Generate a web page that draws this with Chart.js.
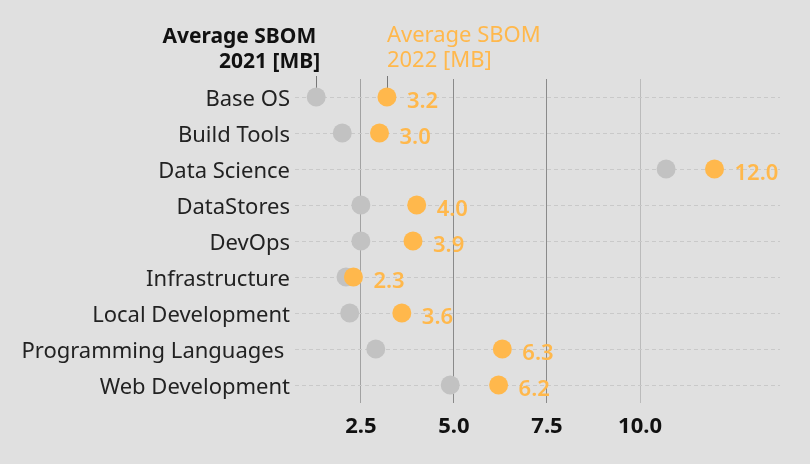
<!DOCTYPE html>
<html>
<head>
<meta charset="utf-8">
<script src="https://cdn.jsdelivr.net/npm/chart.js@4"></script>
<style>
  html, body { margin: 0; padding: 0; background: #e0e0e0; }
  #wrap { width: 810px; height: 464px; }
</style>
</head>
<body>
<div id="wrap"><canvas id="c" width="810" height="464"></canvas></div>
<script>
const categories = ["Base OS", "Build Tools", "Data Science", "DataStores", "DevOps", "Infrastructure", "Local Development", "Programming Languages ", "Web Development"];
const sbom2021 = [1.3, 2.0, 10.7, 2.5, 2.5, 2.1, 2.2, 2.9, 4.9];
const sbom2022 = [3.2, 3.0, 12.0, 4.0, 3.9, 2.3, 3.6, 6.3, 6.2];
const xTicks = [2.5, 5.0, 7.5, 10.0];
const header2021 = ["Average SBOM", "2021 [MB]"];
const header2022 = ["Average SBOM", "2022 [MB]"];

const FONT = "'Noto Sans', sans-serif";
const ORANGE = "#ffb84c";
const GREY = "#c2c2c2";

const bgPlugin = {
  id: "bg",
  beforeDraw(chart) {
    const ctx = chart.ctx;
    ctx.save();
    ctx.fillStyle = "#e0e0e0";
    ctx.fillRect(0, 0, chart.width, chart.height);
    ctx.restore();
  }
};

const annotPlugin = {
  id: "annot",
  beforeDatasetsDraw(chart) {
    const ctx = chart.ctx;
    const m21 = chart.getDatasetMeta(1).data[0];
    const m22 = chart.getDatasetMeta(0).data[0];
    ctx.save();
    ctx.strokeStyle = "#777";
    ctx.lineWidth = 1;
    [m21, m22].forEach(p => {
      const x = Math.round(p.x) + 0.5;
      ctx.beginPath();
      ctx.moveTo(x, 76);
      ctx.lineTo(x, p.y - 8);
      ctx.stroke();
    });
    // headers
    ctx.textBaseline = "middle";
    ctx.fillStyle = "#111";
    ctx.font = "bold 21px " + FONT;
    ctx.textAlign = "right";
    ctx.fillText(header2021[0], m21.x + 0, 37);
    ctx.fillText(header2021[1], m21.x + 4, 62);
    ctx.fillStyle = ORANGE;
    ctx.font = "22px " + FONT;
    ctx.textAlign = "left";
    ctx.fillText(header2022[0], m22.x, 36);
    ctx.fillText(header2022[1], m22.x, 61);
    ctx.restore();
  },
  afterDatasetsDraw(chart) {
    const ctx = chart.ctx;
    const meta = chart.getDatasetMeta(0);
    ctx.save();
    ctx.fillStyle = ORANGE;
    ctx.font = "600 22px " + FONT;
    ctx.textAlign = "left";
    ctx.textBaseline = "middle";
    meta.data.forEach((p, i) => {
      ctx.fillText(sbom2022[i].toFixed(1), p.x + 20, p.y + 5);
    });
    ctx.restore();
  }
};

const gridColors = { 2.5: "#a2a2a2", 5: "#8a8a8a", 7.5: "#8a8a8a", 10: "#bbbbbb" };

new Chart(document.getElementById("c"), {
  type: "line",
  data: {
    labels: categories,
    datasets: [
      { label: "2022", data: sbom2022, showLine: false, pointRadius: 9.5, pointHoverRadius: 9.5,
        pointBackgroundColor: ORANGE, pointBorderWidth: 0, borderColor: ORANGE },
      { label: "2021", data: sbom2021, showLine: false, pointRadius: 9.5, pointHoverRadius: 9.5,
        pointBackgroundColor: GREY, pointBorderWidth: 0, borderColor: GREY }
    ]
  },
  options: {
    responsive: false,
    animation: false,
    indexAxis: "y",
    layout: { padding: { top: 79, right: 30, left: 0, bottom: 0 } },
    plugins: { legend: { display: false }, tooltip: { enabled: false } },
    scales: {
      x: {
        type: "linear",
        min: 0.73,
        max: 13.76,
        afterBuildTicks: s => { s.ticks = xTicks.map(v => ({ value: v })); },
        afterFit: s => { s.height = 61; },
        grid: {
          color: ctx => (ctx.tick && gridColors[ctx.tick.value]) || "#9a9a9a",
          lineWidth: 1, drawTicks: false
        },
        border: { display: false },
        ticks: {
          color: "#111",
          padding: 11,
          font: { family: FONT, size: 22, weight: "bold" },
          callback: v => Number(v).toFixed(1)
        }
      },
      y: {
        type: "category",
        offset: true,
        afterFit: s => { s.width = 295; },
        grid: { color: "#c9c9c9", lineWidth: 1, drawTicks: false, offset: false },
        border: { display: false, dash: [4, 3] },
        ticks: {
          color: "#222",
          padding: 5,
          labelOffset: 3,
          font: { family: FONT, size: 22 }
        }
      }
    }
  },
  plugins: [bgPlugin, annotPlugin]
});
</script>
</body>
</html>
